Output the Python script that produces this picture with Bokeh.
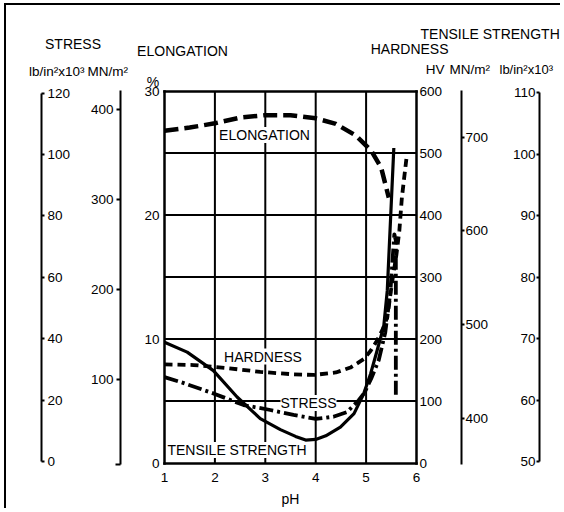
from bokeh.plotting import figure
from bokeh.models import Range1d, LinearAxis, FixedTicker, Label
from bokeh.embed import file_html
from bokeh.resources import INLINE

# ------------------------------------------------------------------ data
ph_ticks = [1, 2, 3, 4, 5, 6]
elong_ticks = [0, 10, 20, 30]
hv_ticks = [0, 100, 200, 300, 400, 500, 600]
stress_lb_ticks = [0, 20, 40, 60, 80, 100, 120]
stress_mn_ticks = [100, 200, 300, 400]
tens_mn_ticks = [400, 500, 600, 700]
tens_lb_ticks = [50, 60, 70, 80, 90, 100, 110]
grid_ph = [2, 3, 4, 5]
grid_hv = [100, 200, 300, 400, 500]

# elongation, %
elong_ph = [1.0, 1.5, 2.0, 2.5, 3.0, 3.5, 4.0, 4.4, 4.8, 5.1, 5.3, 5.45]
elong_pct = [26.8, 27.05, 27.4, 27.85, 28.05, 28.05, 27.8, 27.35, 26.4, 25.2, 23.8, 21.4]

# hardness, HV
hard_ph = [1.0, 1.58, 2.25, 2.9, 3.56, 3.96, 4.4, 4.69, 4.83, 4.96, 5.09, 5.2,
           5.32, 5.42, 5.52, 5.6, 5.66, 5.71, 5.81]
hard_hv = [159, 158, 153, 147, 143, 142, 146, 154, 161, 168, 181, 195,
           214, 235, 294, 335, 375, 428, 498]

# stress, lb/in2 x 10^3
stress_ph = [1.0, 1.32, 1.97, 2.57, 3.1, 3.56, 4.0, 4.35, 4.62, 4.85, 4.97, 5.1,
             5.25, 5.38, 5.48, 5.56, 5.59, 5.59]
stress_ksi = [27.5, 25.9, 22.2, 18.4, 16.8, 15.2, 13.9, 14.6, 16.1, 19.9, 22.5, 27.0,
              33.0, 42.0, 55.0, 74.0, 72.0, 20.5]

# tensile strength, lb/in2 x 10^3
tens_ph = [1.0, 1.45, 1.97, 2.44, 2.9, 3.3, 3.6, 3.8, 4.0, 4.2, 4.49, 4.76, 4.95,
           5.09, 5.22, 5.35, 5.42, 5.55]
tens_ksi = [69.4, 67.8, 64.8, 60.5, 57.0, 55.2, 54.1, 53.5, 53.6, 54.2, 55.6, 57.8, 61.0,
            64.3, 68.1, 72.0, 77.8, 101.0]

# ------------------------------------------------------------------ layout
FONT = "Liberation Sans"
HEAD = "14px"
UNIT = "13.5px"
TICK = "13.5px"
PX1, PX6 = 164.0, 416.0      # page x of pH 1 / pH 6
PY0, PY30 = 462.5, 90.5      # page y of 0 % / 30 %
CX0, CY0 = 6, 5              # page position of canvas origin
W, H = 556, 505

SX = (PX6 - PX1) / 5.0
SY = (PY0 - PY30) / 30.0


def X(px):
    return 1 + (px - PX1) / SX


def Y(py):
    return (PY0 - py) / SY


def yr(v1, p1, v2, p2):
    f = lambda py: v1 + (v2 - v1) * (py - p1) / (p2 - p1)
    return Range1d(start=f(CY0 + H), end=f(CY0))


p = figure(width=W, height=H, title=None,
           x_range=Range1d(X(CX0), X(CX0 + W)),
           y_range=Range1d(Y(CY0 + H), Y(CY0)),
           x_axis_type=None, y_axis_type=None,
           min_border=0, outline_line_color=None,
           background_fill_color="white", border_fill_color="white",
           output_backend="svg", toolbar_location=None)
p.styles = {"margin-left": "4px", "margin-top": "3px",
            "border-left": "2px solid black", "border-top": "2px solid black"}

p.extra_y_ranges = {
    "hv": yr(0, PY0, 600, PY30),
    "stress_lb": yr(0, 461.1, 120, 92.5),
    "stress_mn": yr(0, 468.6, 400, 109.1),
    "tens_mn": yr(400, 417.5, 700, 136.5),
    "tens_lb": yr(50, 461.1, 110, 92.1),
}


def add_axis(side, loc, ticks, bounds, range_name="default", tick_out=0,
             standoff=3, line_width=2, minor=None, is_x=False, cap="butt"):
    kw = dict(fixed_location=loc, bounds=bounds,
              ticker=FixedTicker(ticks=ticks, minor_ticks=minor or []),
              axis_line_width=line_width, axis_line_color="black", axis_line_cap=cap,
              major_tick_out=tick_out, major_tick_in=0, major_tick_line_width=2,
              major_tick_line_color="black",
              minor_tick_out=5 if minor else 0, minor_tick_in=0,
              minor_tick_line_width=2, minor_tick_line_color="black",
              major_label_standoff=standoff,
              major_label_text_font=FONT, major_label_text_font_size=TICK,
              major_label_text_color="black")
    if not is_x:
        kw["y_range_name"] = range_name
    ax = LinearAxis(**kw)
    p.add_layout(ax, side)
    return ax


# plot box + its own axes
bx = add_axis("below", elong_ticks[0], ph_ticks, (ph_ticks[0], ph_ticks[-1]),
              standoff=10, line_width=2.5, is_x=True, cap="square")
bx.axis_label = "pH"
bx.axis_label_text_font = FONT
bx.axis_label_text_font_size = HEAD
bx.axis_label_text_font_style = "normal"
bx.axis_label_text_color = "black"
bx.axis_label_standoff = 5
tx = add_axis("above", elong_ticks[-1], [], (ph_ticks[0], ph_ticks[-1]),
              line_width=2.5, is_x=True, cap="square")
tx.major_label_text_font_size = "0px"
add_axis("left", ph_ticks[0], elong_ticks, (elong_ticks[0], elong_ticks[-1]),
         standoff=5, line_width=2.5, cap="square")
add_axis("right", ph_ticks[-1], hv_ticks, (hv_ticks[0], hv_ticks[-1]), "hv",
         standoff=3, line_width=2.5, cap="square")

# outer scales
add_axis("right", X(41), stress_lb_ticks, (0, 120), "stress_lb", tick_out=3, standoff=3)
add_axis("left", X(120), stress_mn_ticks, (5.1, 421.3), "stress_mn", tick_out=4,
         standoff=2, minor=[5.1])
add_axis("right", X(461), tens_mn_ticks, (350.4, 749.6), "tens_mn", tick_out=3, standoff=1)
add_axis("left", X(539), tens_lb_ticks, (50, 110), "tens_lb", tick_out=3, standoff=1)

# grid
p.segment(x0=grid_ph, y0=elong_ticks[0], x1=grid_ph, y1=elong_ticks[-1],
          line_color="black", line_width=2)
p.segment(x0=ph_ticks[0], y0=grid_hv, x1=ph_ticks[-1], y1=grid_hv,
          y_range_name="hv", line_color="black", line_width=2)

# curves
p.line(elong_ph, elong_pct, line_color="black", line_width=4.5, line_dash="14 6",
       line_join="round")
p.line(hard_ph, hard_hv, y_range_name="hv", line_color="black", line_width=3.8,
       line_dash="8 5", line_join="round")
p.line(stress_ph, stress_ksi, y_range_name="stress_lb", line_color="black",
       line_width=3.8, line_dash="14 4 3 4", line_join="round")
p.line(tens_ph, tens_ksi, y_range_name="tens_lb", line_color="black",
       line_width=3.2, line_join="round")


def label(px, py, text, align="center", bg=None, size=HEAD):
    lab = Label(x=X(px), y=Y(py), text=text, text_align=align,
                text_baseline="middle", text_font=FONT, text_font_size=size,
                text_color="black", background_fill_color=bg)
    p.add_layout(lab)


# headers
label(72.5, 43.7, "STRESS")
label(84, 71, "lb/in²x10³", align="right", size=UNIT)
label(87, 71, "MN/m²", align="left", size=UNIT)
label(182, 50.5, "ELONGATION")
label(152.5, 81.5, "%")
label(448, 48.5, "HARDNESS", align="right")
label(420, 33, "TENSILE STRENGTH", align="left")
label(444, 69, "HV", align="right", size=UNIT)
label(449, 69, "MN/m²", align="left", size=UNIT)
label(499, 69, "lb/in²x10³", align="left", size="13px")

# curve names
label(264, 134.5, "ELONGATION", bg="white")
label(262.5, 356, "HARDNESS", bg="white")
label(308, 402.5, "STRESS", bg="white")
label(236.5, 449.5, "TENSILE STRENGTH", bg="white")

open("out.html", "w").write(file_html(p, INLINE))
